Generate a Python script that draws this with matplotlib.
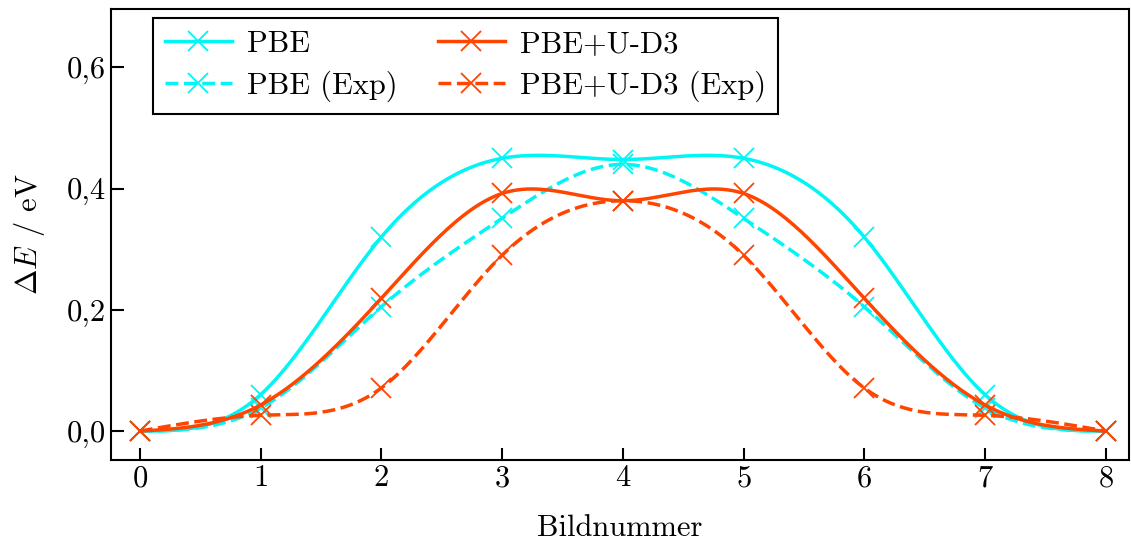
import matplotlib
matplotlib.use("Agg")
import matplotlib.pyplot as plt
import numpy as np
from matplotlib.ticker import FuncFormatter

plt.rcParams['font.family'] = 'cmr10'
plt.rcParams['mathtext.fontset'] = 'cm'
plt.rcParams['axes.formatter.use_mathtext'] = True

# Bildnummer und Energien (eV)
images = np.arange(9)
pbe = [0.0, 0.06, 0.32, 0.45, 0.448, 0.45, 0.32, 0.06, 0.0]
pbe_exp = [0.0, 0.038, 0.205, 0.351, 0.44, 0.351, 0.205, 0.038, 0.0]
pbeu = [0.0, 0.043, 0.219, 0.392, 0.38, 0.392, 0.219, 0.043, 0.0]
pbeu_exp = [0.0, 0.026, 0.071, 0.29, 0.38, 0.29, 0.071, 0.026, 0.0]

cyan = '#00f5f5'
orange = '#ff4500'


def natural_spline(x, y, xs):
    # natuerlicher kubischer Spline, nur zum Zeichnen der Kurve
    x = np.asarray(x, float)
    y = np.asarray(y, float)
    n = len(x)
    h = np.diff(x)
    A = np.zeros((n, n))
    b = np.zeros(n)
    A[0, 0] = A[-1, -1] = 1
    for i in range(1, n - 1):
        A[i, i - 1] = h[i - 1]
        A[i, i] = 2 * (h[i - 1] + h[i])
        A[i, i + 1] = h[i]
        b[i] = 6 * ((y[i + 1] - y[i]) / h[i] - (y[i] - y[i - 1]) / h[i - 1])
    M = np.linalg.solve(A, b)
    idx = np.clip(np.searchsorted(x, xs) - 1, 0, n - 2)
    x0, x1 = x[idx], x[idx + 1]
    hh = x1 - x0
    t0, t1 = x1 - xs, xs - x0
    return (M[idx] * t0 ** 3 / (6 * hh) + M[idx + 1] * t1 ** 3 / (6 * hh)
            + (y[idx] / hh - M[idx] * hh / 6) * t0
            + (y[idx + 1] / hh - M[idx + 1] * hh / 6) * t1)


fig = plt.figure(figsize=(11.31, 5.42), dpi=100)
ax = fig.add_axes([0.098, 0.151, 0.9, 0.832])

xs = np.linspace(0, 8, 400)
series = [
    (pbe, cyan, '-', 'PBE'),
    (pbe_exp, cyan, '--', 'PBE (Exp)'),
    (pbeu, orange, '-', 'PBE+U-D3'),
    (pbeu_exp, orange, '--', 'PBE+U-D3 (Exp)'),
]
for vals, col, ls, lab in series:
    ax.plot(xs, natural_spline(images, vals, xs), color=col, ls=ls, lw=2.5)
    ax.plot(images, vals, ls='none', marker='x', ms=14, mew=1.3, color=col)

handles = [plt.Line2D([0], [0], color=c, ls=l, lw=2.5, marker='x', ms=14, mew=1.3, label=t)
           for _, c, l, t in series]
leg = ax.legend(handles=handles, ncol=2, loc='upper left',
                fontsize=22, frameon=True, fancybox=False, edgecolor='black',
                framealpha=1, handlelength=2.2, borderpad=0.4, labelspacing=0.4,
                columnspacing=1.3, handletextpad=0.5, borderaxespad=0,
                bbox_to_anchor=(0.041, 0.98))
leg.get_frame().set_linewidth(1.5)

ax.set_xlim(-0.24, 8.19)
ax.set_ylim(-0.048, 0.696)
ax.set_xticks(range(9))
ax.set_yticks([0.0, 0.2, 0.4, 0.6])
ax.yaxis.set_major_formatter(FuncFormatter(lambda v, p: f'{v:.1f}'.replace('.', ',')))
ax.tick_params(direction='in', length=9, width=1.5, labelsize=22, top=False, right=False)
for s in ax.spines.values():
    s.set_linewidth(1.5)

ax.set_xlabel('Bildnummer', fontsize=22, labelpad=16)
ax.set_ylabel(r'$\Delta E$ / eV', fontsize=22, labelpad=14)

fig.savefig('out.png', dpi=100)
